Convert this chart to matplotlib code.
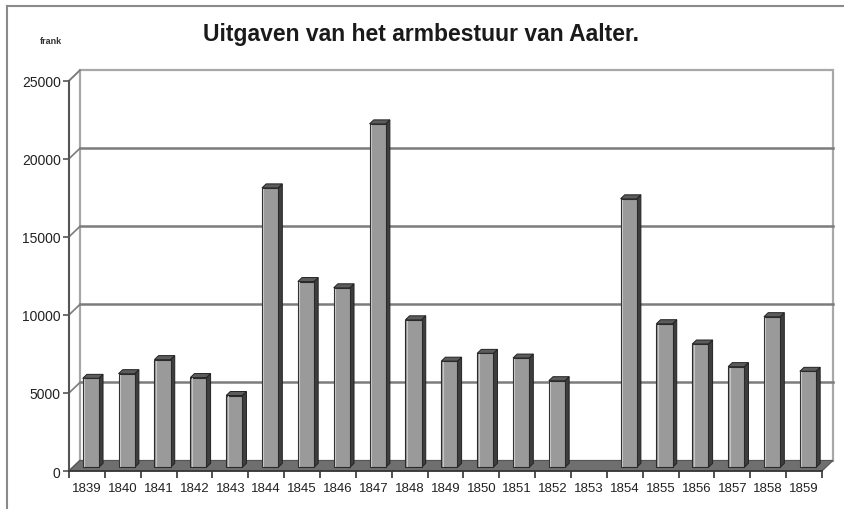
import matplotlib
matplotlib.use("Agg")
import matplotlib.pyplot as plt
from matplotlib.patches import Polygon, Rectangle
from matplotlib.lines import Line2D

years = [str(y) for y in range(1839, 1860)]
values = [5700, 6000, 6900, 5750, 4600, 17900, 11900, 11500, 22000, 9450,
          6800, 7300, 7000, 5550, 0, 17200, 9200, 7900, 6450, 9650, 6150]
yticks = [0, 5000, 10000, 15000, 20000, 25000]
title = "Uitgaven van het armbestuur van Aalter."
unit_label = "frank"

plt.rcParams['font.family'] = ['Liberation Sans', 'DejaVu Sans']

W, H = 844, 510
fig = plt.figure(figsize=(W / 100, H / 100), dpi=100)

# front axis box in pixels
x_left, x_right = 69, 822
y_bottom, y_top = 472, 81.7
ax = fig.add_axes([x_left / W, 1 - y_bottom / H, (x_right - x_left) / W, (y_bottom - y_top) / H])
n = len(years)
ax.set_xlim(-0.5, n - 0.5)
ax.set_ylim(0, 25000)

# depth in pixels -> data units
px_per_x = (x_right - x_left) / n
px_per_y = (y_bottom - y_top) / 25000
DX, DY = 11 / px_per_x, 10.5 / px_per_y

grid_c = '#7c7c7c'
wall_edge = '#a8a8a8'
x0, x1 = -0.5, n - 0.5
ytop = 25000

# side wall
ax.add_patch(Polygon([(x0, 0), (x0 + DX, DY), (x0 + DX, ytop + DY), (x0, ytop)],
                     closed=True, facecolor='white', edgecolor=wall_edge, lw=1.2,
                     zorder=1, clip_on=False))
# back wall
ax.add_patch(Rectangle((x0 + DX, DY), x1 - x0, ytop, facecolor='white',
                       edgecolor=wall_edge, lw=1.6, zorder=1, clip_on=False))
# gridlines
for t in yticks[1:-1]:
    ax.add_line(Line2D([x0 + DX, x1 + DX], [t + DY, t + DY], color=grid_c, lw=1.8,
                       zorder=2, clip_on=False))
for t in yticks:
    ax.add_line(Line2D([x0, x0 + DX], [t, t + DY], color=grid_c, lw=1.2, zorder=2,
                       clip_on=False))
# floor
ax.add_patch(Polygon([(x0, 0), (x1, 0), (x1 + DX, DY), (x0 + DX, DY)], closed=True,
                     facecolor='#6f6f6f', edgecolor='#555555', lw=0.8, zorder=3,
                     clip_on=False))

# bars
f = 0.35   # front depth fraction
b = 0.38   # bar depth fraction
bw = 0.45  # bar width in category units
for i, v in enumerate(values):
    if v <= 0:
        continue
    xl = i - bw / 2 + f * DX
    xr = i + bw / 2 + f * DX
    yb = f * DY
    yt = v + f * DY
    bdx, bdy = b * DX, b * DY
    ax.add_patch(Polygon([(xr, yb), (xr + bdx, yb + bdy), (xr + bdx, yt + bdy), (xr, yt)],
                         closed=True, facecolor='#3e3e3e', edgecolor='#222222', lw=0.7,
                         zorder=4, clip_on=False))
    ax.add_patch(Polygon([(xl, yt), (xr, yt), (xr + bdx, yt + bdy), (xl + bdx, yt + bdy)],
                         closed=True, facecolor='#5c5c5c', edgecolor='#222222', lw=0.7,
                         zorder=4, clip_on=False))
    ax.add_patch(Rectangle((xl, yb), xr - xl, v, facecolor='#9a9a9a',
                           edgecolor='#2a2a2a', lw=0.8, zorder=5, clip_on=False))
    ax.add_line(Line2D([xl + 0.04, xl + 0.04], [yb + 60, yt - 60], color='#c4c4c4',
                       lw=0.8, zorder=6, clip_on=False))

# axes styling
for s in ['top', 'right']:
    ax.spines[s].set_visible(False)
ax.spines['left'].set_color('#555555')
ax.spines['left'].set_linewidth(1.5)
ax.spines['bottom'].set_color('#333333')
ax.spines['bottom'].set_linewidth(1.2)
ax.spines['left'].set_zorder(7)
ax.spines['bottom'].set_zorder(7)
ax.set_yticks(yticks)
ax.set_yticklabels([str(t) for t in yticks], fontsize=10, color='#222222')
ax.set_xticks(range(n))
ax.set_xticklabels(years, fontsize=9.5, color='#222222')
ax.set_xticks([i - 0.5 for i in range(n + 1)], minor=True)
ax.tick_params(axis='x', which='major', length=0, pad=8)
ax.tick_params(axis='x', which='minor', length=5, width=1.2, color='#333333', direction='out')
ax.tick_params(axis='y', length=4, width=1.2, color='#555555', pad=2)
ax.patch.set_visible(False)

fig.text(421 / W, 1 - 34 / H, title, ha='center', va='center', fontsize=16.5,
         fontweight='bold', color='#1a1a1a')
fig.text(50.5 / W, 1 - 42 / H, unit_label, ha='center', va='center', fontsize=6.5,
         fontweight='bold', color='#333333')

# outer frame (top and left)
fig.add_artist(Line2D([7 / W, 1], [1 - 7 / H, 1 - 7 / H], transform=fig.transFigure,
                      color='#8a8a8a', lw=1.5))
fig.add_artist(Line2D([7 / W, 7 / W], [0, 1 - 7 / H], transform=fig.transFigure,
                      color='#8a8a8a', lw=1.5))

fig.savefig('out.png', dpi=100)
